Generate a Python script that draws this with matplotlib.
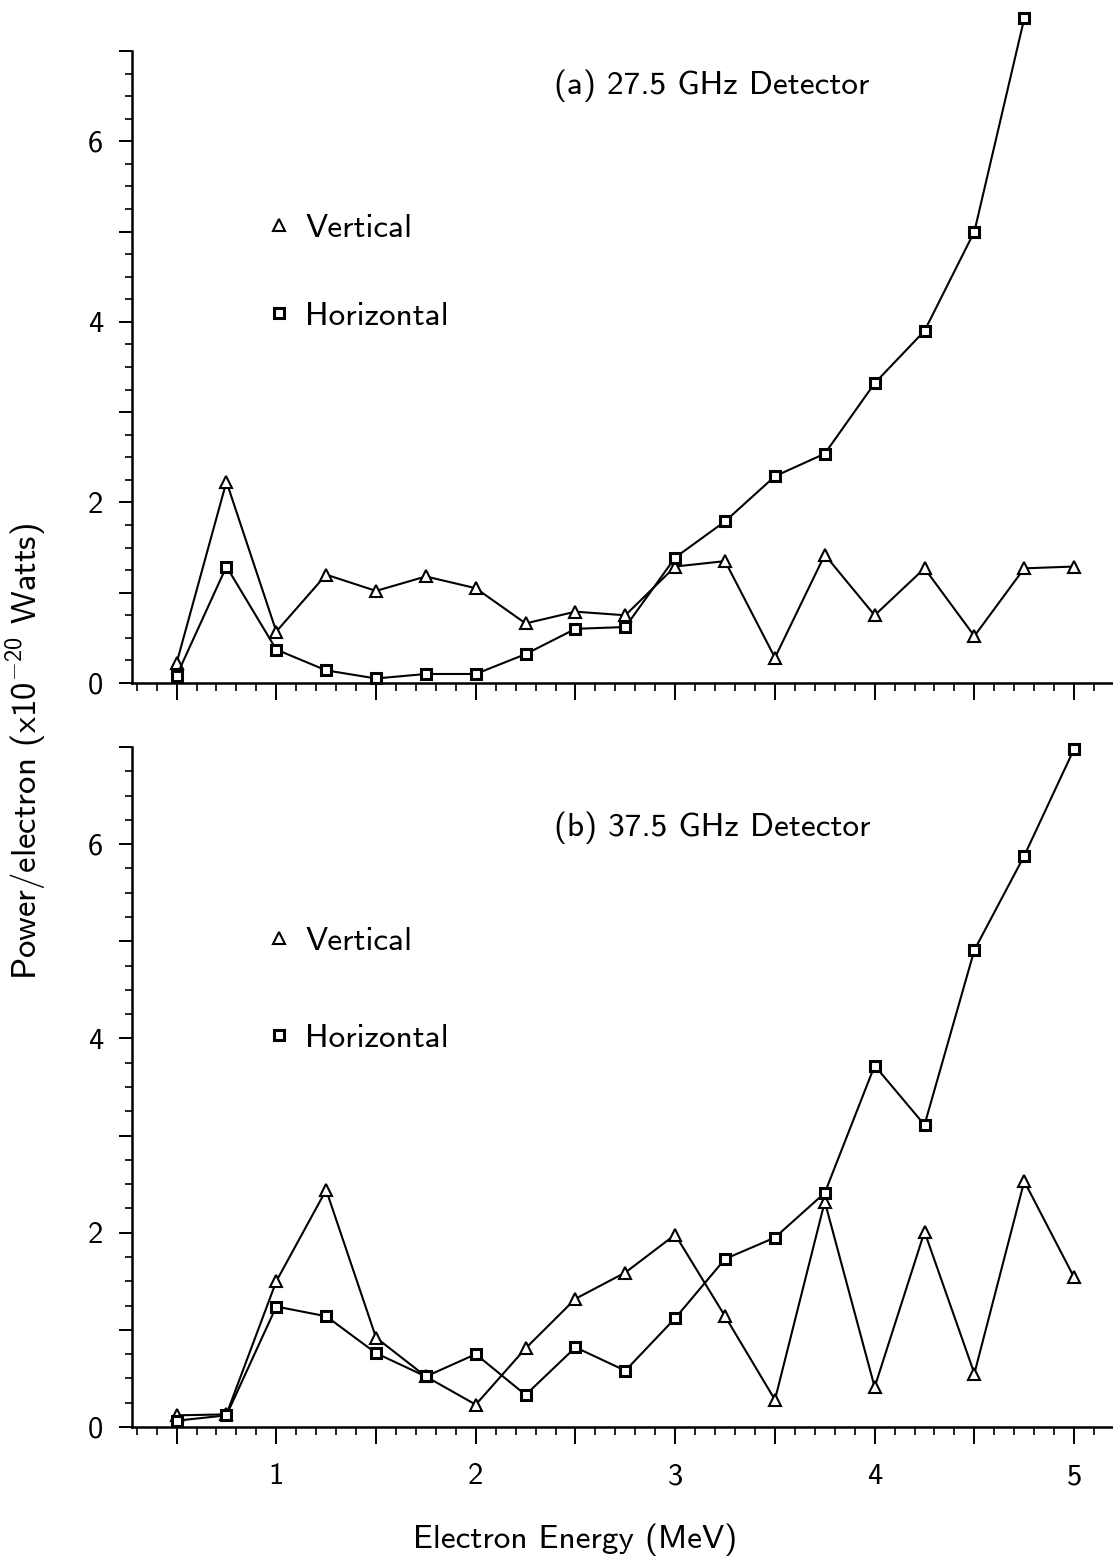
import matplotlib
matplotlib.use('Agg')
import matplotlib.pyplot as plt
from matplotlib.lines import Line2D
from matplotlib.ticker import MultipleLocator, FuncFormatter

plt.rcParams['font.family'] = ['cmss10', 'DejaVu Sans']
plt.rcParams['mathtext.fontset'] = 'custom'
plt.rcParams['mathtext.rm'] = 'cmss10'
plt.rcParams['mathtext.it'] = 'cmss10'
plt.rcParams['mathtext.sf'] = 'cmss10'
plt.rcParams['axes.unicode_minus'] = False

# electron energy (MeV)
energy = [0.5, 0.75, 1.0, 1.25, 1.5, 1.75, 2.0, 2.25, 2.5, 2.75,
          3.0, 3.25, 3.5, 3.75, 4.0, 4.25, 4.5, 4.75, 5.0]

# (a) 27.5 GHz detector
vert_a = [0.22, 2.23, 0.57, 1.20, 1.02, 1.18, 1.05, 0.66, 0.79, 0.75,
          1.29, 1.35, 0.28, 1.42, 0.75, 1.27, 0.52, 1.27, 1.29]
horz_a = [0.08, 1.29, 0.37, 0.14, 0.05, 0.10, 0.10, 0.32, 0.60, 0.62,
          1.39, 1.79, 2.29, 2.54, 3.32, 3.90, 5.00, 7.36]

# (b) 37.5 GHz detector
vert_b = [0.12, 0.13, 1.50, 2.44, 0.92, 0.52, 0.23, 0.81, 1.32, 1.59,
          1.98, 1.14, 0.28, 2.32, 0.41, 2.01, 0.55, 2.53, 1.54]
horz_b = [0.065, 0.12, 1.24, 1.14, 0.76, 0.52, 0.75, 0.33, 0.82, 0.58,
          1.12, 1.73, 1.95, 2.41, 3.72, 3.11, 4.91, 5.88, 6.98]

titles = ['(a) 27.5 GHz Detector', '(b) 37.5 GHz Detector']
labels = ['Vertical', 'Horizontal']

W, H = 1113, 1559
fig = plt.figure(figsize=(W / 100, H / 100), dpi=100)
ax1 = fig.add_axes([131.7 / W, 1 - 683 / H, (W - 131.7) / W, (683 - 51) / H])
ax2 = fig.add_axes([131.7 / W, 1 - 1427 / H, (W - 131.7) / W, (1427 - 747) / H])

tri = dict(marker='^', ms=9, mfc='white', mec='black', mew=1.5)
sq = dict(marker='s', ms=7, mfc='white', mec='black', mew=2.2)


def xfmt(v, p):
    return str(int(round(v))) if abs(v - round(v)) < 1e-6 else ''


def yfmt(v, p):
    r = int(round(v))
    return str(r) if abs(v - r) < 1e-6 and r % 2 == 0 else ''


def style(ax, title, title_y, leg_y, leg_space):
    for s in ['top', 'right']:
        ax.spines[s].set_visible(False)
    for s in ['left', 'bottom']:
        ax.spines[s].set_linewidth(1.8)
    ax.set_xlim(0.275, 5.195)
    ax.set_ylim(0, 7)
    ax.xaxis.set_major_locator(MultipleLocator(0.5))
    ax.xaxis.set_minor_locator(MultipleLocator(0.1))
    ax.yaxis.set_major_locator(MultipleLocator(1))
    ax.yaxis.set_minor_locator(MultipleLocator(0.25))
    ax.xaxis.set_major_formatter(FuncFormatter(xfmt))
    ax.yaxis.set_major_formatter(FuncFormatter(yfmt))
    ax.tick_params(axis='x', which='major', length=12, width=1.4, pad=14, labelsize=22)
    ax.tick_params(axis='x', which='minor', length=6, width=1.2)
    ax.tick_params(axis='y', which='major', length=9.5, width=1.4, pad=11, labelsize=22)
    ax.tick_params(axis='y', which='minor', length=5, width=1.2)
    ax.text(2.39, title_y, title, fontsize=24, va='center', ha='left')
    handles = [Line2D([], [], ls='none', **tri), Line2D([], [], ls='none', **sq)]
    ax.legend(handles, labels, loc='center left', bbox_to_anchor=(0.93, leg_y),
              bbox_transform=ax.transData, frameon=False, fontsize=24,
              handlelength=1.0, handletextpad=0.28, borderpad=0,
              borderaxespad=0, labelspacing=leg_space)


ax1.plot(energy, vert_a, color='black', lw=1.5, clip_on=False, zorder=3, **tri)
ax1.plot(energy[:len(horz_a)], horz_a, color='black', lw=1.5, clip_on=False, zorder=3, **sq)
style(ax1, titles[0], 6.62, 4.55, 1.76)
ax1.tick_params(axis='x', labelbottom=False)

ax2.plot(energy, vert_b, color='black', lw=1.5, clip_on=False, zorder=3, **tri)
ax2.plot(energy, horz_b, color='black', lw=1.5, clip_on=False, zorder=3, **sq)
style(ax2, titles[1], 6.17, 4.5, 2.03)

fig.text(575 / W, 1 - 1548 / H, 'Electron Energy (MeV)', fontsize=24,
         ha='center', va='baseline')
fig.text(37 / W, 1 - 751 / H, r'Power/electron (x10$^{-20}$ Watts)', fontsize=25,
         rotation=90, rotation_mode='anchor', ha='center', va='baseline')

fig.savefig('out.png', dpi=100)
